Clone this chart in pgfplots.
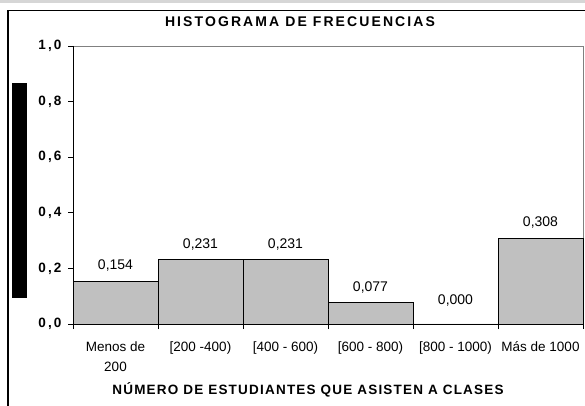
\documentclass[border=0pt]{standalone}
\usepackage{fontspec}
\setmainfont{Liberation Sans}
\newfontfamily\titlefont[LetterSpace=15]{Liberation Sans}
\newfontfamily\xlabfont[LetterSpace=9]{Liberation Sans}
\newfontfamily\ytickfont[LetterSpace=16]{Liberation Sans}
\usepackage{pgfplots}
\pgfplotsset{compat=1.18}
\definecolor{barfill}{HTML}{C0C0C0}
\definecolor{strip}{HTML}{D6D6D6}
\begin{document}
\begin{tikzpicture}[x=1pt,y=1pt]
\path[use as bounding box] (0,0) rectangle (585,406);
\fill[strip] (0,403) rectangle (585,406);
\draw[line width=1.6pt] (8,0) -- (8,395.5) -- (585,395.5);
\fill[black] (12,108) rectangle (27,323);
\begin{axis}[
  at={(73pt,82pt)}, anchor=south west,
  scale only axis, width=510pt, height=278pt,
  xmin=0, xmax=6, ymin=0, ymax=1,
  xtick={0,1,2,3,4,5,6},
  x tick label as interval,
  xticklabels={{Menos de\\200},{[200 -400)},{[400 - 600)},{[600 - 800)},{[800 - 1000)},{Más de 1000}},
  ytick={0,0.2,0.4,0.6,0.8,1},
  yticklabels={{0,0},{0,2},{0,4},{0,6},{0,8},{1,0}},
  tick pos=left,
  tick align=outside,
  major tick length=5pt,
  tick style={black, line width=0.6pt},
  axis line style={draw=gray, line width=0.8pt},
  x tick label style={font=\fontsize{13.5}{20}\selectfont, align=center, yshift=-9pt},
  y tick label style={font=\ytickfont\bfseries\fontsize{13.5}{15}\selectfont, xshift=-3pt},
  clip=false,
]
\addplot[ybar, bar width=1, fill=barfill, draw=black, line width=0.9pt,
  visualization depends on=rawy \as \ry,
  nodes near coords,
  point meta=explicit symbolic,
  every node near coord/.append style={font=\fontsize{14}{16}\selectfont, black, yshift={ifthenelse(\ry==0,14,6)}},
] coordinates {
  (0.5,0.154) [0,154]
  (1.5,0.231) [0,231]
  (2.5,0.231) [0,231]
  (3.5,0.077) [0,077]
  (4.5,0.000) [0,000]
  (5.5,0.308) [0,308]
};
\draw[black, line width=0.8pt] (rel axis cs:0,1) -- (rel axis cs:0,0) -- (rel axis cs:1,0);
\end{axis}
\node[font=\titlefont\bfseries\fontsize{14}{16}\selectfont] at (300,384.5) {HISTOGRAMA DE FRECUENCIAS};
\node[font=\xlabfont\bfseries\fontsize{13.5}{15}\selectfont] at (308,16) {NÚMERO DE ESTUDIANTES QUE ASISTEN A CLASES};
\end{tikzpicture}
\end{document}
